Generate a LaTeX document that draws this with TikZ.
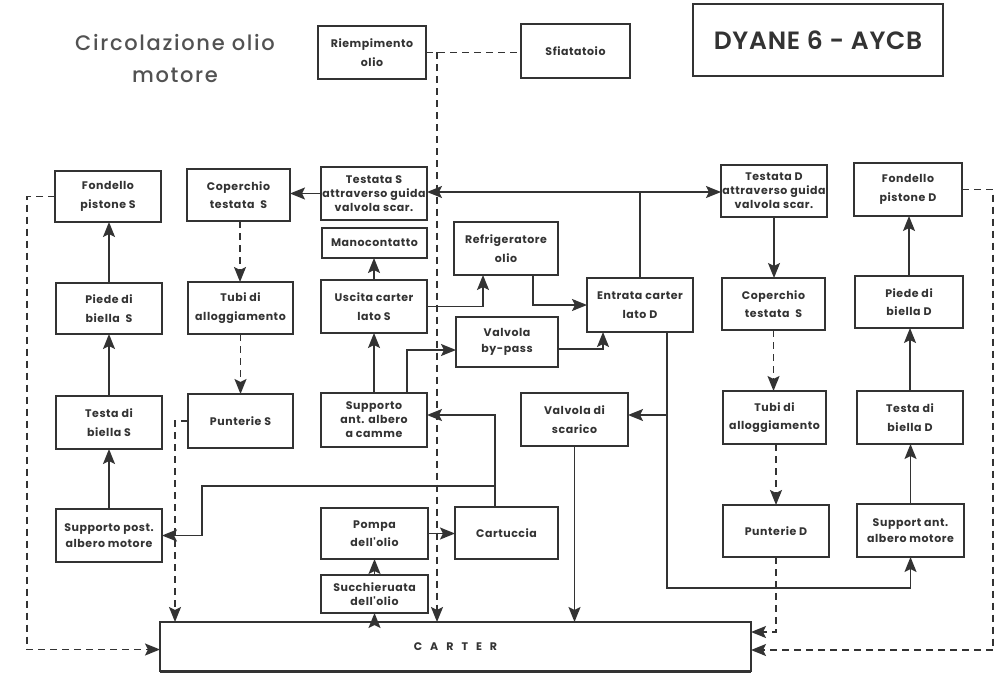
\documentclass[tikz,border=0pt]{standalone}
\usepackage{fontspec}
\setmainfont{Poppins}
\newfontfamily\titlefont{Poppins Medium}[LetterSpace=8]
\newfontfamily\modelfont{Poppins SemiBold}[LetterSpace=3]
\newfontfamily\boxfont{Poppins}[LetterSpace=5]
\usetikzlibrary{arrows.meta}
\definecolor{ink}{HTML}{333333}
\tikzset{
  oilhead/.tip={Stealth[length=15pt,width=12pt,inset=3pt]},
}
\begin{document}
\begin{tikzpicture}[x=1pt,y=-1pt,
  box/.style={draw=ink, line width=1.8pt, inner sep=0pt, outer sep=0pt,
    align=center, text=ink, font=\boxfont\bfseries\fontsize{11}{18.5}\selectfont},
  tight/.style={font=\boxfont\bfseries\fontsize{11}{14}\selectfont},
  mid/.style={font=\boxfont\bfseries\fontsize{11}{16.5}\selectfont},
  wire/.style={draw=ink, line width=1.6pt},
  flow/.style={wire, -oilhead},
  dwire/.style={wire, dash pattern=on 7pt off 5pt},
  dflow/.style={dwire, -oilhead}]
\newcommand\bx[6][]{\node[box,#1,minimum width=#5pt,minimum height=#6pt] (#2) at (#3,#4)}

\useasboundingbox[fill=white] (0,0) rectangle (1000,679);

% headings
\node[text=ink!85, align=center, font=\titlefont\fontsize{21}{32}\selectfont] (title) at (175,59) {Circolazione olio\\motore};
\node[draw=ink, line width=2pt, minimum width=250pt, minimum height=72pt, inner sep=0pt,
  text=ink, font=\modelfont\fontsize{25}{30}\selectfont] (model) at (818,40) {DYANE 6 - AYCB};

% boxes
\bx{riemp}{372}{52.5}{108}{53} {Riempimento\\olio};
\bx{sfiat}{575.5}{51}{109}{54} {Sfiatatoio};
\bx{fondS}{108}{196.5}{106}{51} {Fondello\\pistone S};
\bx{copS}{238.5}{195}{103}{52} {Coperchio\\testata\ \ S};
\bx[tight]{testataS}{374}{193.5}{106}{53} {Testata S\\attraverso guida\\valvola scar.};
\bx[tight]{testataD}{774}{191}{106}{52} {Testata D\\attraverso guida\\valvola scar.};
\bx{fondD}{908}{189.5}{108}{53} {Fondello\\pistone D};
\bx{mano}{374.5}{243}{105}{30} {Manocontatto};
\bx{refrig}{506}{248.5}{104}{53} {Refrigeratore\\olio};
\bx{uscita}{374}{306.5}{106}{53} {Uscita carter\\lato S};
\bx[mid]{bypass}{507}{342}{102}{50} {Valvola\\by-pass};
\bx{entrata}{640}{305}{106}{54} {Entrata carter\\lato D};
\bx{piedeS}{109}{308.5}{106}{51} {Piede di\\biella\ \ S};
\bx{tubiS}{240.5}{308}{105}{52} {Tubi di\\alloggiamento};
\bx{copD}{773.5}{304}{103}{52} {Coperchio\\testata\ \ S};
\bx{piedeD}{909}{302}{108}{52} {Piede di\\biella D};
\bx{testaS}{109}{422.5}{106}{53} {Testa di\\biella S};
\bx{puntS}{240.5}{421}{105}{54} {Punterie S};
\bx[tight]{suppCam}{374}{420}{106}{54} {Supporto\\ant. albero\\a camme};
\bx{scarico}{574.5}{419.5}{107}{53} {Valvola di\\scarico};
\bx{tubiD}{774.5}{417.5}{103}{53} {Tubi di\\alloggiamento};
\bx{testaD}{910}{417.5}{106}{53} {Testa di\\biella D};
\bx[mid]{suppPost}{109}{535.5}{106}{53} {Supporto post.\\albero motore};
\bx{pompa}{374.5}{533.5}{107}{51} {Pompa\\dell'olio};
\bx{cart}{506.5}{533}{103}{52} {Cartuccia};
\bx[tight]{succh}{374.5}{594}{107}{38} {Succhieruata\\dell'olio};
\bx{puntD}{776}{531}{106}{52} {Punterie D};
\bx[mid]{suppD}{910.5}{530.5}{107}{53} {Support ant.\\albero motore};
\bx{carter}{455.5}{646.5}{591}{49} {\fontsize{11}{13}\selectfont C\hspace{8pt}A\hspace{8pt}R\hspace{8pt}T\hspace{8pt}E\hspace{8pt}R};
\draw[ink, line width=1.8pt] ([yshift=-1.2pt]carter.south west) -- ([yshift=-1.2pt]carter.south east);

% breather and filler
\draw[dwire] (riemp.east) -- (riemp.east -| sfiat.west);
\draw[dflow] ([xshift=11pt]riemp.east) -- ([xshift=11pt]riemp.east |- carter.north);

% left bank
\draw[flow] (suppPost.north) -- (suppPost.north |- testaS.south);
\draw[flow] (testaS.north) -- (testaS.north |- piedeS.south);
\draw[flow] (piedeS.north) -- (piedeS.north |- fondS.south);
\draw[dflow] (fondS.west) -- ++(-28,0) |- ([yshift=-3pt]carter.west);
\draw[dflow] ([xshift=1.5pt]copS.south) -- ([xshift=1.5pt]copS.south |- tubiS.north);
\draw[dflow] (tubiS.south) -- (tubiS.south |- puntS.north);
\draw[dflow] (puntS.west) -| ([xshift=15pt]carter.north west);
\draw[flow] (testataS.west) -- (testataS.west -| copS.east);

% delivery from the crankcase inlet to the heads
\draw[wire] (entrata.north) -- ++(0,-86) coordinate (jn);
\draw[flow] (jn) -- (jn -| testataS.east);
\draw[flow] (jn) -- (jn -| testataD.west);

% pump side
\draw[flow] (uscita.north) -- (uscita.north |- mano.south);
\draw[flow] (suppCam.north) -- (suppCam.north |- uscita.south);
\draw[flow] ([xshift=33pt]suppCam.north) |- ([yshift=-8pt]bypass.west);
\draw[flow] (uscita.east) -| ([xshift=-23pt]refrig.south);
\draw[flow] ([xshift=27pt]refrig.south) |- (entrata.west);
\draw[flow] ([yshift=-7pt]bypass.east) -| ([xshift=-37pt]entrata.south);
\draw[flow] ([xshift=27pt]entrata.south) -- ++(0,83) coordinate (jb) -- ++(0,173) -| (suppD.south);
\draw[flow] (jb) -- (jb -| scarico.east);
\draw[flow] (scarico.south) -- (scarico.south |- carter.north);
\draw[flow] ([xshift=-11.5pt]cart.north) -- ++(0,-21) coordinate (jc) |- ([yshift=5pt]suppCam.east);
\draw[flow] (jc) -- ++(-293,0) |- (suppPost.east);
\draw[flow] (pompa.east) -- (pompa.east -| cart.west);
\draw[flow] (succh.north) -- (pompa.south);
\draw[flow] (carter.north -| succh.south) -- (succh.south);

% right bank
\draw[flow] (testataD.south) -- (testataD.south |- copD.north);
\draw[dflow] (copD.south) -- (copD.south |- tubiD.north);
\draw[dflow] ([xshift=1.5pt]tubiD.south) -- ([xshift=1.5pt]tubiD.south |- puntD.north);
\draw[dflow] (puntD.south) |- ([yshift=14.5pt]carter.east);
\draw[flow] (suppD.north) -- (suppD.north |- testaD.south);
\draw[flow] (testaD.north) -- (testaD.north |- piedeD.south);
\draw[flow] (piedeD.north) -- (piedeD.north |- fondD.south);
\draw[dflow] (fondD.east) -- ++(31,0) |- ([yshift=-3.5pt]carter.east);
\end{tikzpicture}
\end{document}
